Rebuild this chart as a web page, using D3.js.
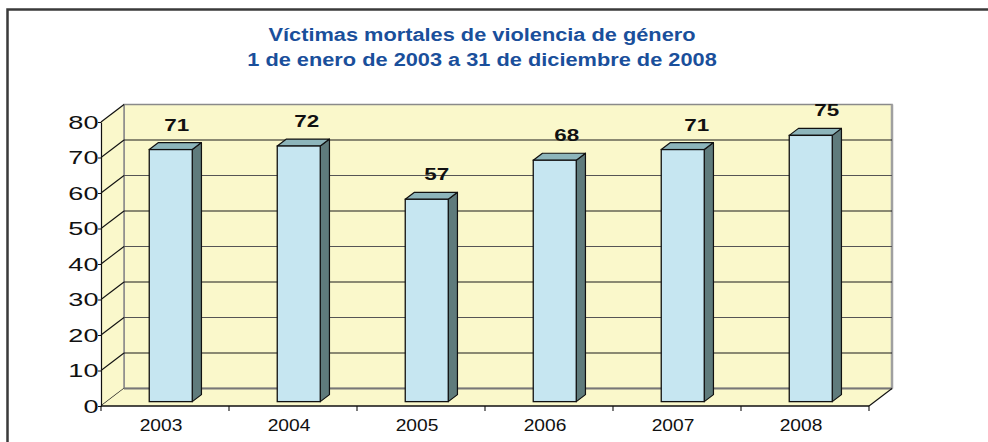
<!DOCTYPE html>
<html><head><meta charset="utf-8">
<script src="https://cdn.jsdelivr.net/npm/d3@7/dist/d3.min.js"></script>
<style>
body{margin:0;background:#fff}
svg{display:block}
text{font-family:"Liberation Sans",Arial,Helvetica,sans-serif}
</style>
</head><body>
<svg id="c" width="988" height="442"></svg>
<script>
const titleLines = ["Víctimas mortales de violencia de género", "1 de enero de 2003 a 31 de diciembre de 2008"];
const years = ["2003", "2004", "2005", "2006", "2007", "2008"];
const victims = [71, 72, 57, 68, 71, 75];
const yTicks = [0, 10, 20, 30, 40, 50, 60, 70, 80];

const svg = d3.select("#c");
const X0 = 101, X1 = 869, DX = 23, DY = -17.5;
const x = d3.scaleBand().domain(years).range([X0, X1]).padding(0);
const y = d3.scaleLinear().domain([0, 80]).range([406, 122]);
const WALL = "#FAF8CB";

// frame
svg.append("path").attr("d", `M7.5,442 L7.5,9.5 L988,9.5`).attr("fill", "none")
  .attr("stroke", "#3a3a3a").attr("stroke-width", 2.5);

// title
svg.selectAll("text.title").data(titleLines).join("text").attr("class", "title")
  .attr("transform", (d, i) => `translate(482,${40.5 + i * 25}) scale(1.21,1)`)
  .attr("text-anchor", "middle").attr("font-size", 18).attr("font-weight", "bold")
  .attr("fill", "#1A4F9B").text(d => d);

const yMin = y(0), yMax = y(80);
// back wall
svg.append("rect").attr("x", X0 + DX).attr("y", yMax + DY)
  .attr("width", X1 - X0).attr("height", yMin - yMax).attr("fill", WALL)
  .attr("stroke", "#8a8a8a").attr("stroke-width", 1.5);
// side wall
svg.append("path").attr("d", `M${X0},${yMin} L${X0},${yMax} L${X0 + DX},${yMax + DY} L${X0 + DX},${yMin + DY} Z`)
  .attr("fill", WALL).attr("stroke", "none");
svg.append("line").attr("x1", X0 + DX).attr("x2", X0 + DX).attr("y1", yMax + DY).attr("y2", yMin + DY)
  .attr("stroke", "#8a8a8a").attr("stroke-width", 1.5);
svg.append("line").attr("x1", X1 + DX).attr("x2", X1 + DX).attr("y1", yMax + DY).attr("y2", yMin + DY)
  .attr("stroke", "#a0a0a0").attr("stroke-width", 2.5);

// gridlines
const grid = yTicks.filter(v => v > 0 && v < 80);
svg.selectAll("line.gh").data(grid).join("line").attr("class", "gh")
  .attr("x1", X0 + DX).attr("x2", X1 + DX)
  .attr("y1", d => y(d) + DY).attr("y2", d => y(d) + DY)
  .attr("stroke", (d, i) => i % 2 ? "#555" : "#1a1a1a").attr("stroke-width", 1.2);
svg.selectAll("line.gd").data(yTicks.slice(0, -1)).join("line").attr("class", "gd")
  .attr("x1", X0).attr("x2", X0 + DX)
  .attr("y1", d => y(d)).attr("y2", d => y(d) + DY)
  .attr("stroke", "#111").attr("stroke-width", 1.1);
svg.append("line").attr("x1", X0).attr("x2", X0 + DX).attr("y1", yMax).attr("y2", yMax + DY)
  .attr("stroke", "#111").attr("stroke-width", 1.2);

// floor
svg.append("path").attr("d", `M${X0},${yMin} L${X1},${yMin} L${X1 + DX},${yMin + DY} L${X0 + DX},${yMin + DY} Z`)
  .attr("fill", WALL).attr("stroke", "none");
svg.append("line").attr("x1", X0 + DX).attr("x2", X1 + DX).attr("y1", yMin + DY).attr("y2", yMin + DY)
  .attr("stroke", "#777").attr("stroke-width", 2);
svg.append("line").attr("x1", X1).attr("x2", X1 + DX).attr("y1", yMin).attr("y2", yMin + DY)
  .attr("stroke", "#111").attr("stroke-width", 1.1);

// y axis
const ya = svg.append("g").attr("transform", `translate(${X0},0)`)
  .call(d3.axisLeft(y).tickValues(yTicks).tickSize(3).tickSizeOuter(0));
ya.select(".domain").attr("stroke", "#111").attr("stroke-width", 1.2);
ya.selectAll(".tick line").attr("stroke", "#111");
ya.selectAll(".tick text").attr("x", null).attr("dy", "0.36em")
  .attr("transform", "translate(-2.5,0) scale(1.55,1)")
  .attr("font-size", 17.5).attr("fill", "#111")
  .attr("font-family", '"Liberation Sans",Arial,sans-serif');

// x axis
svg.append("line").attr("x1", X0).attr("x2", X1).attr("y1", yMin).attr("y2", yMin)
  .attr("stroke", "#111").attr("stroke-width", 1.3);
const bounds = years.map(d => x(d)).concat([X1]);
svg.selectAll("line.xt").data(bounds).join("line").attr("class", "xt")
  .attr("x1", d => d).attr("x2", d => d).attr("y1", yMin).attr("y2", yMin + 5)
  .attr("stroke", "#111").attr("stroke-width", 1.1);
svg.selectAll("text.xl").data(years).join("text").attr("class", "xl")
  .attr("transform", d => `translate(${x(d) + x.bandwidth() / 2 - 4},430.5) scale(1.2,1)`)
  .attr("text-anchor", "middle").attr("font-size", 16).attr("fill", "#111").text(d => d);

// bars
const f0 = 0.25, fd = 0.4;
const bw = x.bandwidth() * 0.336;
const data = years.map((yr, i) => ({ yr, v: victims[i], i }));
const bars = svg.selectAll("g.bar").data(data).join("g").attr("class", "bar");
const bx = d => x(d.yr) + x.bandwidth() / 2 - bw / 2 + f0 * DX;
const by = v => y(v) + f0 * DY;
const sx = fd * DX, sy = fd * DY;
bars.append("path")
  .attr("d", d => { const l = bx(d) + bw, t = by(d.v), b = by(0);
    return `M${l},${b} L${l},${t} L${l + sx},${t + sy} L${l + sx},${b + sy} Z`; })
  .attr("fill", "#5F7B7C").attr("stroke", "#111").attr("stroke-width", 1.2).attr("stroke-linejoin", "round");
bars.append("path")
  .attr("d", d => { const l = bx(d), t = by(d.v);
    return `M${l},${t} L${l + sx},${t + sy} L${l + bw + sx},${t + sy} L${l + bw},${t} Z`; })
  .attr("fill", "#8DB5BB").attr("stroke", "#111").attr("stroke-width", 1.2).attr("stroke-linejoin", "round");
bars.append("rect")
  .attr("x", d => bx(d)).attr("y", d => by(d.v)).attr("width", bw).attr("height", d => by(0) - by(d.v))
  .attr("fill", "#C6E6F1").attr("stroke", "#111").attr("stroke-width", 1.3);

// value labels
svg.selectAll("text.vl").data(data).join("text").attr("class", "vl")
  .attr("transform", d => `translate(${bx(d) + bw / 2 + 6 + 2 * d.i},${by(d.v) - 19}) scale(1.4,1)`)
  .attr("text-anchor", "middle").attr("font-size", 16).attr("font-weight", "bold")
  .attr("fill", "#111").text(d => d.v);
</script>
</body></html>
